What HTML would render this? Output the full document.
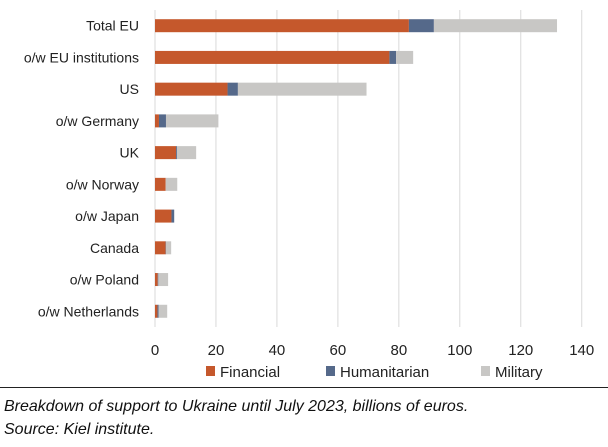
<!DOCTYPE html>
<html><head><meta charset="utf-8"><style>
body{margin:0;background:#fff;width:608px;height:447px;overflow:hidden;font-family:"Liberation Sans",sans-serif}
.cap{position:absolute;left:4px;font-style:italic;font-size:16px;color:#111}
</style></head><body>
<svg id="chart" width="608" height="447" style="position:absolute;left:0;top:0" font-family="Liberation Sans, sans-serif"></svg>
<div style="position:absolute;left:0;top:387px;width:608px;height:1px;background:#222"></div>
<div class="cap" style="top:398px">Breakdown of support to Ukraine until July 2023, billions of euros.</div>
<div class="cap" style="top:421px">Source: Kiel institute.</div>
<script>
const categories=["Total EU","o/w EU institutions","US","o/w Germany","UK","o/w Norway","o/w Japan","Canada","o/w Poland","o/w Netherlands"];
const financial=[83.3,76.9,23.8,1.3,6.9,3.5,5.4,3.5,0.9,0.8];
const humanitarian=[8.2,2.2,3.4,2.3,0.3,0,0.9,0.1,0.2,0.4];
const military=[40.4,5.6,42.2,17.2,6.3,3.8,0,1.7,3.2,2.8];
const xTicks=[0,20,40,60,80,100,120,140];
const seriesNames=["Financial","Humanitarian","Military"];
const colors=["#c5582c","#55698a","#c8c7c5"];
const svg=document.getElementById('chart');const NS='http://www.w3.org/2000/svg';
const x=v=>155+v*3.048;
const yc=i=>25.7+i*31.73;
function mk(t,a){const e=document.createElementNS(NS,t);for(const k in a)e.setAttribute(k,a[k]);svg.appendChild(e);return e;}
xTicks.forEach(t=>{
 const g=mk('line',{x1:x(t),x2:x(t),y1:10,y2:327,stroke:'#d9d9d9','stroke-width':1});
 
 
 const l=mk('text',{x:x(t),y:355,'text-anchor':'middle','font-size':15,fill:'#222'});l.textContent=t;
 
 
});
const series=[financial,humanitarian,military];
categories.forEach((c,i)=>{
 const l=mk('text',{x:139,y:yc(i)+5,'text-anchor':'end','font-size':14,fill:'#222'});l.textContent=c;
 
 
 let acc=0;
 series.forEach((s,k)=>{
  const v=s[i];if(v<=0)return;
  const r=mk('rect',{x:x(acc),y:yc(i)-6.5,width:x(acc+v)-x(acc),height:13,fill:colors[k]});
  
  
  acc+=v;
 });
});
const lx=[206,326,481];
seriesNames.forEach((n,k)=>{
 const r=mk('rect',{x:lx[k],y:366,width:9,height:10,fill:colors[k]});
 
 
 const t=mk('text',{x:lx[k]+14,y:377,'font-size':15,fill:'#222'});t.textContent=n;
 
 
});
</script>
</body></html>
